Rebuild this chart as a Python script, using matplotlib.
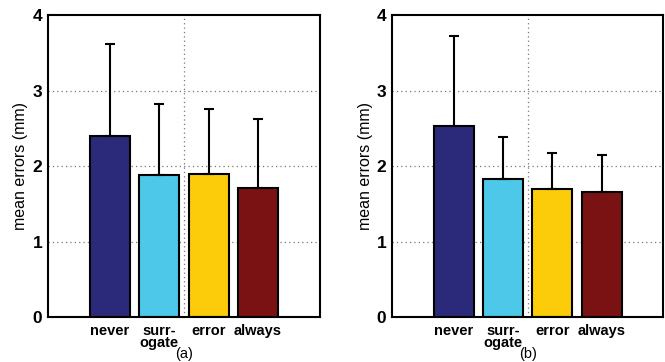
import numpy as np
import matplotlib.pyplot as plt

plt.rcParams['font.family'] = ['Liberation Sans', 'DejaVu Sans']

# data
methods = ['never', 'surr-\nogate', 'error', 'always']
colors = ['#2b2a7a', '#4ec8e8', '#fccc0a', '#7a1214']

mean_a = [2.40, 1.88, 1.89, 1.71]
err_a = [1.22, 0.94, 0.87, 0.92]

mean_b = [2.53, 1.83, 1.70, 1.66]
err_b = [1.19, 0.55, 0.48, 0.49]

panels = ['(a)', '(b)']

fig = plt.figure(figsize=(6.65, 3.62), dpi=100)
ax_a = fig.add_axes([0.072, 0.124, 0.409, 0.834])
ax_b = fig.add_axes([0.5895, 0.124, 0.408, 0.834])

x = np.arange(1, 5)
for ax, means, errs, tag in zip([ax_a, ax_b], [mean_a, mean_b], [err_a, err_b], panels):
    # dotted grid, drawn beneath the bars
    for g in [1, 2, 3]:
        ax.axhline(g, color='#777777', ls=(0, (1, 2.5)), lw=0.9, zorder=0)
    ax.axvline(2.5, color='#777777', ls=(0, (1, 2.5)), lw=0.9, zorder=0)

    ax.bar(x, means, width=0.81, color=colors, edgecolor='black', linewidth=1.5, zorder=2)
    ax.errorbar(x, means, yerr=[np.zeros(4), errs], fmt='none', ecolor='black',
                elinewidth=1.5, capsize=3.5, capthick=1.5, zorder=3)

    ax.set_xlim(-0.25, 5.25)
    ax.set_ylim(0, 4)
    ax.set_yticks([0, 1, 2, 3, 4])
    ax.set_yticklabels(['0', '1', '2', '3', '4'], fontsize=12.5, fontweight='bold')
    ax.set_xticks(x)
    ax.set_xticklabels(methods, fontsize=10.5, fontweight='bold', linespacing=0.85)
    ax.tick_params(axis='x', length=0, pad=5)
    ax.tick_params(axis='y', length=0, pad=4)
    for s in ax.spines.values():
        s.set_linewidth(1.5)
    ax.set_ylabel('mean errors (mm)', fontsize=11.5, labelpad=3)
    ax.text(2.5, -0.49, tag, ha='center', va='center', fontsize=10.5)

fig.savefig('out.png', dpi=100, facecolor='white')
